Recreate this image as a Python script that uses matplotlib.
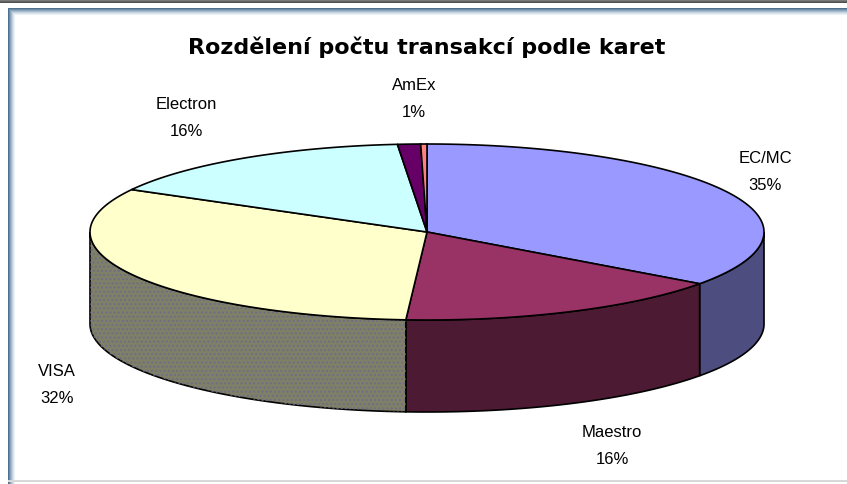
import matplotlib
matplotlib.use("Agg")
import matplotlib.pyplot as plt
import numpy as np
from matplotlib.patches import Polygon

# data (share of transactions by card type)
cards = ["EC/MC", "Maestro", "VISA", "Electron", "AmEx", "Jiné"]
shares = [35.0, 16.0, 32.0, 15.6, 1.1, 0.3]
show_label = [True, True, True, True, True, False]
top_colors = ["#9999ff", "#993366", "#ffffcc", "#ccffff", "#660066", "#ff8080"]
side_colors = ["#4d4d80", "#4d1a33", "#808066", "#668080", "#330033", "#804040"]

title = "Rozdělení počtu transakcí podle karet"

# pie geometry in pixels
cx, cy = 427, 233
rx, ry = 337, 88
depth = 92

# label positions (pixels)
label_pos = [(765, 172), (612, 446), (57, 385), (186, 118), (414, 99), None]

fig = plt.figure(figsize=(8.47, 4.85), dpi=100)
ax = fig.add_axes([0, 0, 1, 1])
ax.set_xlim(0, 847)
ax.set_ylim(485, 0)
ax.axis("off")

# window frame
for i in range(4):
    g = 0.55 - i * 0.08
    ax.add_patch(plt.Rectangle((0, i), 847, 1, color=(g, g, g), lw=0))
frame = ["#4f6f8f", "#6d8aa6", "#8aa3bb", "#a8bccd", "#c3d2df", "#dbe4ec", "#ecf1f5"]
for i, c in enumerate(frame):
    ax.add_patch(plt.Rectangle((8 + i, 9 + i), 1, 476, color=c, lw=0))
    ax.add_patch(plt.Rectangle((8 + i, 9 + i), 847, 1, color=c, lw=0))
ax.add_patch(plt.Rectangle((8, 481), 847, 2, color="#d8d8d8", lw=0))


def pt(theta, dy=0.0):
    return cx + rx * np.sin(theta), cy - ry * np.cos(theta) + dy


bounds = np.concatenate([[0], np.cumsum(shares)]) / sum(shares) * 2 * np.pi

# side faces (front half only)
for i in range(len(shares)):
    a0 = max(bounds[i], np.pi / 2)
    a1 = min(bounds[i + 1], 3 * np.pi / 2)
    if a1 <= a0:
        continue
    t = np.linspace(a0, a1, 80)
    xs, ys = pt(t)
    xb, yb = pt(t[::-1], depth)
    verts = np.column_stack([np.concatenate([xs, xb]), np.concatenate([ys, yb])])
    ax.add_patch(Polygon(verts, closed=True, facecolor=side_colors[i], edgecolor="black", lw=1.2, zorder=2))
    if cards[i] == "VISA":
        ax.add_patch(Polygon(verts, closed=True, facecolor="none", edgecolor="#6e6e88", hatch="....", lw=0, zorder=2))

# top faces
for i in range(len(shares)):
    t = np.linspace(bounds[i], bounds[i + 1], 120)
    xs, ys = pt(t)
    verts = np.column_stack([np.concatenate([[cx], xs]), np.concatenate([[cy], ys])])
    ax.add_patch(Polygon(verts, closed=True, facecolor=top_colors[i], edgecolor="black", lw=1.2, zorder=3))

# labels
for i in range(len(shares)):
    if not show_label[i]:
        continue
    pct = round(shares[i] / sum(shares) * 100)
    x, y = label_pos[i]
    ax.text(x, y, f"{cards[i]}\n{pct}%", ha="center", va="center", fontsize=12,
            family="Liberation Sans", color="black", linespacing=2.0, zorder=5)

ax.text(427, 47, title, ha="center", va="center", fontsize=16, fontweight="bold",
        family="DejaVu Sans", color="black", zorder=5)

fig.savefig("out.png", dpi=100)
